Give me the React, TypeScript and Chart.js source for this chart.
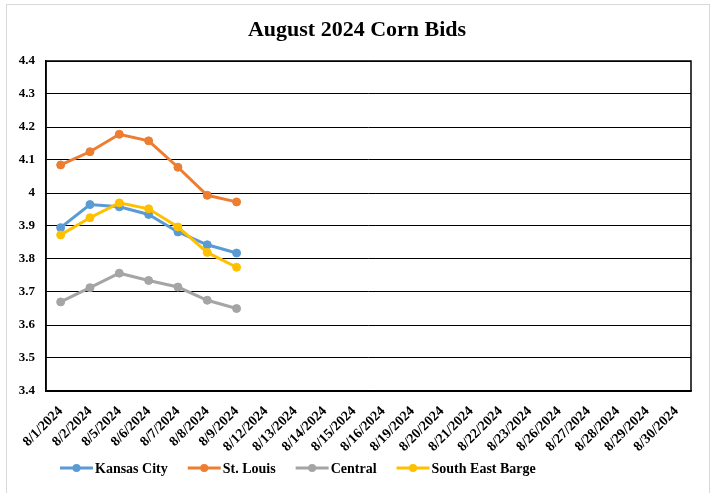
import React, { useEffect, useRef } from "react";
import { Chart, registerables } from "chart.js";

Chart.register(...registerables);

const categories = [
  "8/1/2024", "8/2/2024", "8/5/2024", "8/6/2024", "8/7/2024", "8/8/2024",
  "8/9/2024", "8/12/2024", "8/13/2024", "8/14/2024", "8/15/2024", "8/16/2024",
  "8/19/2024", "8/20/2024", "8/21/2024", "8/22/2024", "8/23/2024", "8/26/2024",
  "8/27/2024", "8/28/2024", "8/29/2024", "8/30/2024",
];

const kansasCity = [3.895, 3.965, 3.958, 3.935, 3.882, 3.843, 3.818];
const stLouis = [4.085, 4.125, 4.178, 4.158, 4.078, 3.993, 3.973];
const central = [3.67, 3.713, 3.757, 3.735, 3.715, 3.675, 3.65];
const southEastBarge = [3.873, 3.925, 3.97, 3.952, 3.897, 3.82, 3.775];

const seriesNames = ["Kansas City", "St. Louis", "Central", "South East Barge"];
const seriesColors = ["#5B9BD5", "#ED7D31", "#A5A5A5", "#FFC000"];
const titleText = "August 2024 Corn Bids";

const FONT = "'Liberation Serif', 'Times New Roman', serif";

export default function App() {
  const ref = useRef<HTMLCanvasElement | null>(null);

  useEffect(() => {
    if (!ref.current) return;
    const seriesData = [kansasCity, stLouis, central, southEastBarge];

    const decor = {
      id: "decor",
      beforeDraw(chart: any) {
        const ctx = chart.ctx;
        ctx.save();
        ctx.fillStyle = "#ffffff";
        ctx.fillRect(0, 0, chart.width, chart.height);
        ctx.strokeStyle = "#d9d9d9";
        ctx.lineWidth = 1;
        ctx.strokeRect(6.5, 4.5, 703, 500);
        ctx.restore();
      },
      beforeDatasetsDraw(chart: any) {
        const ctx = chart.ctx;
        const a = chart.chartArea;
        ctx.save();
        ctx.strokeStyle = "#000";
        ctx.lineWidth = 1.5;
        ctx.strokeRect(a.left, a.top, a.right - a.left, a.bottom - a.top);
        ctx.restore();
      },
      afterDraw(chart: any) {
        const ctx = chart.ctx;
        ctx.save();
        // title
        ctx.fillStyle = "#000";
        ctx.font = `bold 22px ${FONT}`;
        ctx.textAlign = "center";
        ctx.textBaseline = "middle";
        ctx.fillText(titleText, 357, 30);
        // legend
        ctx.font = `bold 14px ${FONT}`;
        ctx.textAlign = "left";
        let x = 60;
        const y = 468;
        seriesNames.forEach((name, i) => {
          ctx.strokeStyle = seriesColors[i];
          ctx.fillStyle = seriesColors[i];
          ctx.lineWidth = 3;
          ctx.beginPath();
          ctx.moveTo(x, y);
          ctx.lineTo(x + 33, y);
          ctx.stroke();
          ctx.beginPath();
          ctx.arc(x + 16.5, y, 4, 0, Math.PI * 2);
          ctx.fill();
          ctx.fillStyle = "#000";
          ctx.fillText(name, x + 35, y + 1);
          x += 35 + ctx.measureText(name).width + 20;
        });
        ctx.restore();
      },
    };

    const chart = new Chart(ref.current, {
      type: "line",
      data: {
        labels: categories,
        datasets: seriesNames.map((name, i) => ({
          label: name,
          data: seriesData[i],
          borderColor: seriesColors[i],
          backgroundColor: seriesColors[i],
          pointBackgroundColor: seriesColors[i],
          pointBorderColor: seriesColors[i],
          borderWidth: 3,
          pointRadius: 4,
          pointBorderWidth: 1,
          tension: 0,
          fill: false,
          order: 4 - i,
        })),
      },
      options: {
        responsive: false,
        animation: false,
        layout: { padding: { left: 0, right: 21, top: 61, bottom: 42 } },
        plugins: {
          legend: { display: false },
          title: { display: false },
          tooltip: { enabled: false },
        },
        scales: {
          x: {
            offset: true,
            grid: { display: false, drawTicks: false },
            border: { display: true, color: "#000", width: 1.5 },
            ticks: {
              autoSkip: false,
              maxRotation: 45,
              minRotation: 45,
              padding: 12,
              color: "#000",
              font: { family: FONT, size: 14, weight: "bold" },
            },
            afterFit(scale: any) {
              scale.height = 60;
              scale.paddingLeft = 0;
              scale.paddingRight = 0;
            },
          },
          y: {
            min: 3.4,
            max: 4.4,
            grid: { color: "#000", lineWidth: 1, drawTicks: false },
            border: { display: true, color: "#000", width: 1.5 },
            ticks: {
              stepSize: 0.1,
              padding: 11,
              color: "#000",
              font: { family: FONT, size: 13, weight: "bold" },
              callback: (v: any) => String(Math.round(Number(v) * 10) / 10),
            },
            afterFit(scale: any) {
              scale.width = 46;
              scale.paddingTop = 0;
              scale.paddingBottom = 0;
            },
          },
        },
      },
      plugins: [decor],
    });
    return () => chart.destroy();
  }, []);

  return (
    <div style={{ position: "absolute", left: 0, top: 0, width: 712, height: 493 }}>
      <canvas ref={ref} width={712} height={493} style={{ display: "block" }} />
    </div>
  );
}
